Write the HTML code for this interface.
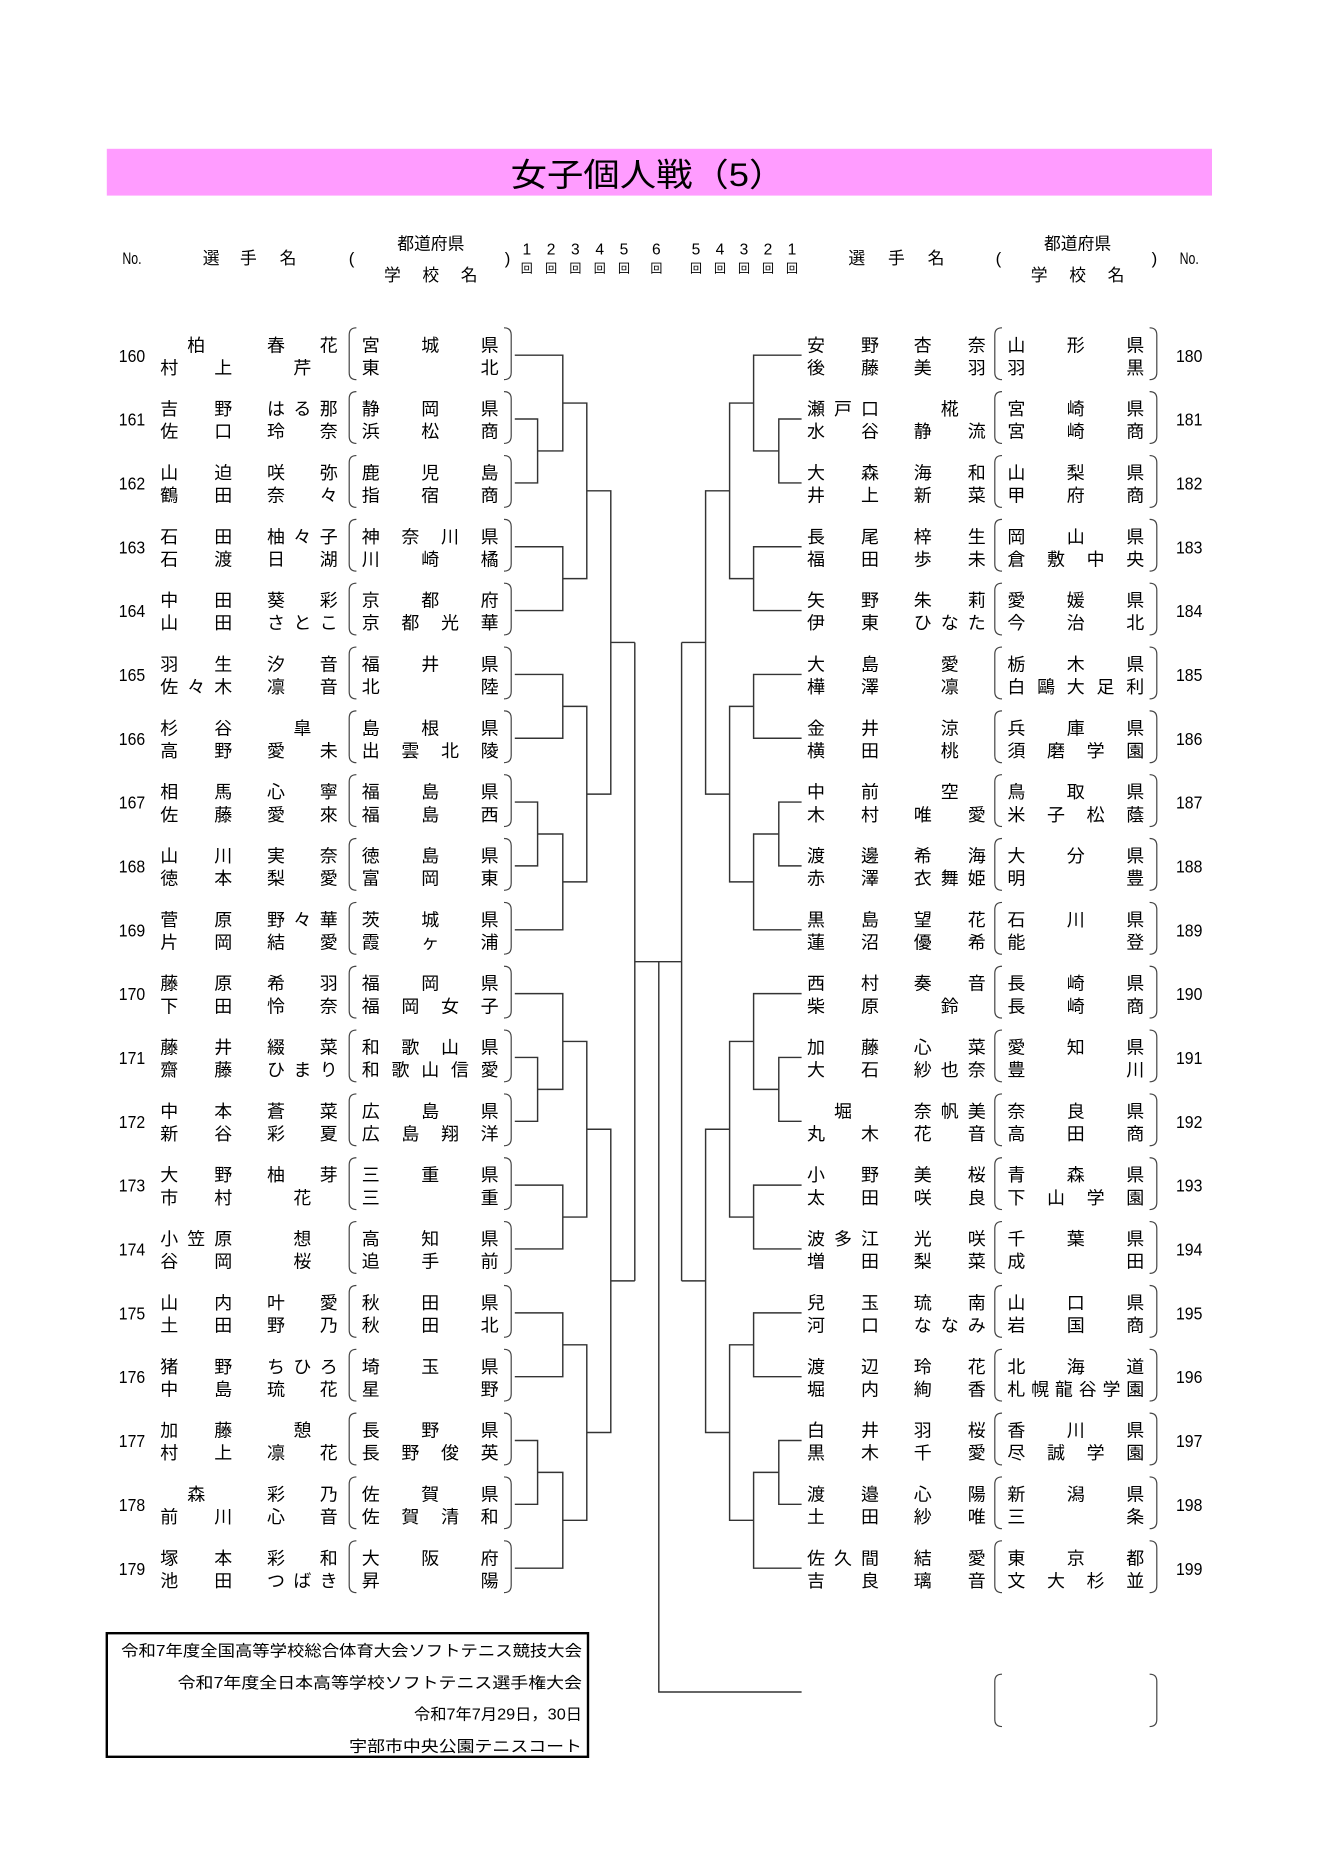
<!DOCTYPE html>
<html><head><meta charset="utf-8">
<style>
html,body{margin:0;padding:0;background:#fff;}
svg{display:block;}
text{font-family:"Liberation Sans","Noto Sans CJK JP",sans-serif;fill:#000;}
.t{font-size:15px;text-anchor:middle;}
.n{font-size:15px;text-anchor:middle;}
.h{font-size:14px;text-anchor:middle;}
.d{font-size:13px;text-anchor:middle;}
.k{font-size:10px;text-anchor:middle;}
.f{font-size:13px;text-anchor:end;}
.ln{fill:none;stroke:#333;stroke-width:1.2;}
.pr{fill:none;stroke:#444;stroke-width:1;}
</style></head><body>
<svg width="1320" height="1866" viewBox="0 0 1100 1555" xmlns="http://www.w3.org/2000/svg">
<defs>
<g id="blk">
<path class="ln" d="M429,350.6H448V404.3H429 M429,297H469V377.45H448 M429,457.9H469V511.5H429 M469,337.2H489V484.7H469 M429,565.2H469V618.8H429 M429,672.4H448V726H429 M448,699.2H469V779.7H429 M469,592H489V739.45H469 M489,410.95H509V665.7H489 M509,538.3H529"/>
</g>
<g id="tree">
<use href="#blk"/>
<use href="#blk" transform="translate(0,536.3)"/>
<path class="ln" d="M529,538.3V1074.6"/>
</g>
<g id="pl"><path class="pr" d="M297,-23Q291,-23 291,-17L291,14.5Q291,20.5 297,20.5 M420,-23Q426,-23 426,-17L426,14.5Q426,20.5 420,20.5"/></g>
<g id="prr"><path class="pr" d="M835,-23Q829,-23 829,-17L829,14.5Q829,20.5 835,20.5 M958,-23Q964,-23 964,-17L964,14.5Q964,20.5 958,20.5"/></g>
</defs>

<rect x="89" y="124" width="921" height="39" fill="#ff9cff"/>
<text x="540" y="155" style="font-size:27px;text-anchor:middle" textLength="229" lengthAdjust="spacingAndGlyphs">女子個人戦（5）</text>

<!-- header -->
<text class="h" x="110" y="220" textLength="16" lengthAdjust="spacingAndGlyphs">No.</text>
<text class="h" x="176 207 240" y="220">選手名</text>
<text class="h" x="293" y="220">(</text>
<text class="h" x="359" y="208">都道府県</text>
<text class="h" x="327 359 391" y="234">学校名</text>
<text class="h" x="423" y="220">)</text>
<text class="d" x="439 459.25 479.5 499.75 520 547 580 600 620 640 660" y="212">12345654321</text>
<text class="k" x="439 459.25 479.5 499.75 520 547 580 600 620 640 660" y="227">回回回回回回回回回回回</text>
<text class="h" x="714 747 780" y="220">選手名</text>
<text class="h" x="832" y="220">(</text>
<text class="h" x="898" y="208">都道府県</text>
<text class="h" x="866 898 930" y="234">学校名</text>
<text class="h" x="962" y="220">)</text>
<text class="h" x="991" y="220" textLength="16" lengthAdjust="spacingAndGlyphs">No.</text>

<g transform="translate(0,296) scale(1,0.992) translate(0,-297)">
<!-- bracket lines -->
<use href="#tree"/>
<use href="#tree" transform="translate(1097,0) scale(-1,1)"/>
<path class="ln" d="M529,806.5H568 M549,806.5V1420H668"/>

<!-- LEFT ROWS -->
<g transform="translate(0,297)"><use href="#pl"/><text class="n" x="110" y="5.5" textLength="22" lengthAdjust="spacingAndGlyphs">160</text><text class="t" x="163.5 230 274" y="-3.3">柏春花</text><text class="t" x="141 186 252" y="15.7">村上芹</text><text class="t" x="309 358.5 408" y="-3.3">宮城県</text><text class="t" x="309 408" y="15.7">東北</text></g>
<g transform="translate(0,350.6)"><use href="#pl"/><text class="n" x="110" y="5.5" textLength="22" lengthAdjust="spacingAndGlyphs">161</text><text class="t" x="141 186 230 252 274" y="-3.3">吉野はる那</text><text class="t" x="141 186 230 274" y="15.7">佐口玲奈</text><text class="t" x="309 358.5 408" y="-3.3">静岡県</text><text class="t" x="309 358.5 408" y="15.7">浜松商</text></g>
<g transform="translate(0,404.3)"><use href="#pl"/><text class="n" x="110" y="5.5" textLength="22" lengthAdjust="spacingAndGlyphs">162</text><text class="t" x="141 186 230 274" y="-3.3">山迫咲弥</text><text class="t" x="141 186 230 274" y="15.7">鶴田奈々</text><text class="t" x="309 358.5 408" y="-3.3">鹿児島</text><text class="t" x="309 358.5 408" y="15.7">指宿商</text></g>
<g transform="translate(0,457.9)"><use href="#pl"/><text class="n" x="110" y="5.5" textLength="22" lengthAdjust="spacingAndGlyphs">163</text><text class="t" x="141 186 230 252 274" y="-3.3">石田柚々子</text><text class="t" x="141 186 230 274" y="15.7">石渡日湖</text><text class="t" x="309 342 375 408" y="-3.3">神奈川県</text><text class="t" x="309 358.5 408" y="15.7">川崎橘</text></g>
<g transform="translate(0,511.5)"><use href="#pl"/><text class="n" x="110" y="5.5" textLength="22" lengthAdjust="spacingAndGlyphs">164</text><text class="t" x="141 186 230 274" y="-3.3">中田葵彩</text><text class="t" x="141 186 230 252 274" y="15.7">山田さとこ</text><text class="t" x="309 358.5 408" y="-3.3">京都府</text><text class="t" x="309 342 375 408" y="15.7">京都光華</text></g>
<g transform="translate(0,565.2)"><use href="#pl"/><text class="n" x="110" y="5.5" textLength="22" lengthAdjust="spacingAndGlyphs">165</text><text class="t" x="141 186 230 274" y="-3.3">羽生汐音</text><text class="t" x="141 163.5 186 230 274" y="15.7">佐々木凛音</text><text class="t" x="309 358.5 408" y="-3.3">福井県</text><text class="t" x="309 408" y="15.7">北陸</text></g>
<g transform="translate(0,618.8)"><use href="#pl"/><text class="n" x="110" y="5.5" textLength="22" lengthAdjust="spacingAndGlyphs">166</text><text class="t" x="141 186 252" y="-3.3">杉谷皐</text><text class="t" x="141 186 230 274" y="15.7">高野愛未</text><text class="t" x="309 358.5 408" y="-3.3">島根県</text><text class="t" x="309 342 375 408" y="15.7">出雲北陵</text></g>
<g transform="translate(0,672.4)"><use href="#pl"/><text class="n" x="110" y="5.5" textLength="22" lengthAdjust="spacingAndGlyphs">167</text><text class="t" x="141 186 230 274" y="-3.3">相馬心寧</text><text class="t" x="141 186 230 274" y="15.7">佐藤愛來</text><text class="t" x="309 358.5 408" y="-3.3">福島県</text><text class="t" x="309 358.5 408" y="15.7">福島西</text></g>
<g transform="translate(0,726)"><use href="#pl"/><text class="n" x="110" y="5.5" textLength="22" lengthAdjust="spacingAndGlyphs">168</text><text class="t" x="141 186 230 274" y="-3.3">山川実奈</text><text class="t" x="141 186 230 274" y="15.7">徳本梨愛</text><text class="t" x="309 358.5 408" y="-3.3">徳島県</text><text class="t" x="309 358.5 408" y="15.7">富岡東</text></g>
<g transform="translate(0,779.7)"><use href="#pl"/><text class="n" x="110" y="5.5" textLength="22" lengthAdjust="spacingAndGlyphs">169</text><text class="t" x="141 186 230 252 274" y="-3.3">菅原野々華</text><text class="t" x="141 186 230 274" y="15.7">片岡結愛</text><text class="t" x="309 358.5 408" y="-3.3">茨城県</text><text class="t" x="309 358.5 408" y="15.7">霞ヶ浦</text></g>
<g transform="translate(0,833.3)"><use href="#pl"/><text class="n" x="110" y="5.5" textLength="22" lengthAdjust="spacingAndGlyphs">170</text><text class="t" x="141 186 230 274" y="-3.3">藤原希羽</text><text class="t" x="141 186 230 274" y="15.7">下田怜奈</text><text class="t" x="309 358.5 408" y="-3.3">福岡県</text><text class="t" x="309 342 375 408" y="15.7">福岡女子</text></g>
<g transform="translate(0,886.9)"><use href="#pl"/><text class="n" x="110" y="5.5" textLength="22" lengthAdjust="spacingAndGlyphs">171</text><text class="t" x="141 186 230 274" y="-3.3">藤井綴菜</text><text class="t" x="141 186 230 252 274" y="15.7">齋藤ひまり</text><text class="t" x="309 342 375 408" y="-3.3">和歌山県</text><text class="t" x="309 333.75 358.5 383.25 408" y="15.7">和歌山信愛</text></g>
<g transform="translate(0,940.6)"><use href="#pl"/><text class="n" x="110" y="5.5" textLength="22" lengthAdjust="spacingAndGlyphs">172</text><text class="t" x="141 186 230 274" y="-3.3">中本蒼菜</text><text class="t" x="141 186 230 274" y="15.7">新谷彩夏</text><text class="t" x="309 358.5 408" y="-3.3">広島県</text><text class="t" x="309 342 375 408" y="15.7">広島翔洋</text></g>
<g transform="translate(0,994.2)"><use href="#pl"/><text class="n" x="110" y="5.5" textLength="22" lengthAdjust="spacingAndGlyphs">173</text><text class="t" x="141 186 230 274" y="-3.3">大野柚芽</text><text class="t" x="141 186 252" y="15.7">市村花</text><text class="t" x="309 358.5 408" y="-3.3">三重県</text><text class="t" x="309 408" y="15.7">三重</text></g>
<g transform="translate(0,1047.8)"><use href="#pl"/><text class="n" x="110" y="5.5" textLength="22" lengthAdjust="spacingAndGlyphs">174</text><text class="t" x="141 163.5 186 252" y="-3.3">小笠原想</text><text class="t" x="141 186 252" y="15.7">谷岡桜</text><text class="t" x="309 358.5 408" y="-3.3">高知県</text><text class="t" x="309 358.5 408" y="15.7">追手前</text></g>
<g transform="translate(0,1101.5)"><use href="#pl"/><text class="n" x="110" y="5.5" textLength="22" lengthAdjust="spacingAndGlyphs">175</text><text class="t" x="141 186 230 274" y="-3.3">山内叶愛</text><text class="t" x="141 186 230 274" y="15.7">土田野乃</text><text class="t" x="309 358.5 408" y="-3.3">秋田県</text><text class="t" x="309 358.5 408" y="15.7">秋田北</text></g>
<g transform="translate(0,1155.1)"><use href="#pl"/><text class="n" x="110" y="5.5" textLength="22" lengthAdjust="spacingAndGlyphs">176</text><text class="t" x="141 186 230 252 274" y="-3.3">猪野ちひろ</text><text class="t" x="141 186 230 274" y="15.7">中島琉花</text><text class="t" x="309 358.5 408" y="-3.3">埼玉県</text><text class="t" x="309 408" y="15.7">星野</text></g>
<g transform="translate(0,1208.7)"><use href="#pl"/><text class="n" x="110" y="5.5" textLength="22" lengthAdjust="spacingAndGlyphs">177</text><text class="t" x="141 186 252" y="-3.3">加藤憩</text><text class="t" x="141 186 230 274" y="15.7">村上凛花</text><text class="t" x="309 358.5 408" y="-3.3">長野県</text><text class="t" x="309 342 375 408" y="15.7">長野俊英</text></g>
<g transform="translate(0,1262.3)"><use href="#pl"/><text class="n" x="110" y="5.5" textLength="22" lengthAdjust="spacingAndGlyphs">178</text><text class="t" x="163.5 230 274" y="-3.3">森彩乃</text><text class="t" x="141 186 230 274" y="15.7">前川心音</text><text class="t" x="309 358.5 408" y="-3.3">佐賀県</text><text class="t" x="309 342 375 408" y="15.7">佐賀清和</text></g>
<g transform="translate(0,1316)"><use href="#pl"/><text class="n" x="110" y="5.5" textLength="22" lengthAdjust="spacingAndGlyphs">179</text><text class="t" x="141 186 230 274" y="-3.3">塚本彩和</text><text class="t" x="141 186 230 252 274" y="15.7">池田つばき</text><text class="t" x="309 358.5 408" y="-3.3">大阪府</text><text class="t" x="309 408" y="15.7">昇陽</text></g>

<!-- RIGHT ROWS -->
<g transform="translate(0,297)"><use href="#prr"/><text class="n" x="991" y="5.5" textLength="22" lengthAdjust="spacingAndGlyphs">180</text><text class="t" x="680 725 769 814" y="-3.3">安野杏奈</text><text class="t" x="680 725 769 814" y="15.7">後藤美羽</text><text class="t" x="847 896.5 946" y="-3.3">山形県</text><text class="t" x="847 946" y="15.7">羽黒</text></g>
<g transform="translate(0,350.6)"><use href="#prr"/><text class="n" x="991" y="5.5" textLength="22" lengthAdjust="spacingAndGlyphs">181</text><text class="t" x="680 702.5 725 791.5" y="-3.3">瀬戸口椛</text><text class="t" x="680 725 769 814" y="15.7">水谷静流</text><text class="t" x="847 896.5 946" y="-3.3">宮崎県</text><text class="t" x="847 896.5 946" y="15.7">宮崎商</text></g>
<g transform="translate(0,404.3)"><use href="#prr"/><text class="n" x="991" y="5.5" textLength="22" lengthAdjust="spacingAndGlyphs">182</text><text class="t" x="680 725 769 814" y="-3.3">大森海和</text><text class="t" x="680 725 769 814" y="15.7">井上新菜</text><text class="t" x="847 896.5 946" y="-3.3">山梨県</text><text class="t" x="847 896.5 946" y="15.7">甲府商</text></g>
<g transform="translate(0,457.9)"><use href="#prr"/><text class="n" x="991" y="5.5" textLength="22" lengthAdjust="spacingAndGlyphs">183</text><text class="t" x="680 725 769 814" y="-3.3">長尾梓生</text><text class="t" x="680 725 769 814" y="15.7">福田歩未</text><text class="t" x="847 896.5 946" y="-3.3">岡山県</text><text class="t" x="847 880 913 946" y="15.7">倉敷中央</text></g>
<g transform="translate(0,511.5)"><use href="#prr"/><text class="n" x="991" y="5.5" textLength="22" lengthAdjust="spacingAndGlyphs">184</text><text class="t" x="680 725 769 814" y="-3.3">矢野朱莉</text><text class="t" x="680 725 769 791.5 814" y="15.7">伊東ひなた</text><text class="t" x="847 896.5 946" y="-3.3">愛媛県</text><text class="t" x="847 896.5 946" y="15.7">今治北</text></g>
<g transform="translate(0,565.2)"><use href="#prr"/><text class="n" x="991" y="5.5" textLength="22" lengthAdjust="spacingAndGlyphs">185</text><text class="t" x="680 725 791.5" y="-3.3">大島愛</text><text class="t" x="680 725 791.5" y="15.7">樺澤凛</text><text class="t" x="847 896.5 946" y="-3.3">栃木県</text><text class="t" x="847 871.75 896.5 921.25 946" y="15.7">白鷗大足利</text></g>
<g transform="translate(0,618.8)"><use href="#prr"/><text class="n" x="991" y="5.5" textLength="22" lengthAdjust="spacingAndGlyphs">186</text><text class="t" x="680 725 791.5" y="-3.3">金井涼</text><text class="t" x="680 725 791.5" y="15.7">横田桃</text><text class="t" x="847 896.5 946" y="-3.3">兵庫県</text><text class="t" x="847 880 913 946" y="15.7">須磨学園</text></g>
<g transform="translate(0,672.4)"><use href="#prr"/><text class="n" x="991" y="5.5" textLength="22" lengthAdjust="spacingAndGlyphs">187</text><text class="t" x="680 725 791.5" y="-3.3">中前空</text><text class="t" x="680 725 769 814" y="15.7">木村唯愛</text><text class="t" x="847 896.5 946" y="-3.3">鳥取県</text><text class="t" x="847 880 913 946" y="15.7">米子松蔭</text></g>
<g transform="translate(0,726)"><use href="#prr"/><text class="n" x="991" y="5.5" textLength="22" lengthAdjust="spacingAndGlyphs">188</text><text class="t" x="680 725 769 814" y="-3.3">渡邊希海</text><text class="t" x="680 725 769 791.5 814" y="15.7">赤澤衣舞姫</text><text class="t" x="847 896.5 946" y="-3.3">大分県</text><text class="t" x="847 946" y="15.7">明豊</text></g>
<g transform="translate(0,779.7)"><use href="#prr"/><text class="n" x="991" y="5.5" textLength="22" lengthAdjust="spacingAndGlyphs">189</text><text class="t" x="680 725 769 814" y="-3.3">黒島望花</text><text class="t" x="680 725 769 814" y="15.7">蓮沼優希</text><text class="t" x="847 896.5 946" y="-3.3">石川県</text><text class="t" x="847 946" y="15.7">能登</text></g>
<g transform="translate(0,833.3)"><use href="#prr"/><text class="n" x="991" y="5.5" textLength="22" lengthAdjust="spacingAndGlyphs">190</text><text class="t" x="680 725 769 814" y="-3.3">西村奏音</text><text class="t" x="680 725 791.5" y="15.7">柴原鈴</text><text class="t" x="847 896.5 946" y="-3.3">長崎県</text><text class="t" x="847 896.5 946" y="15.7">長崎商</text></g>
<g transform="translate(0,886.9)"><use href="#prr"/><text class="n" x="991" y="5.5" textLength="22" lengthAdjust="spacingAndGlyphs">191</text><text class="t" x="680 725 769 814" y="-3.3">加藤心菜</text><text class="t" x="680 725 769 791.5 814" y="15.7">大石紗也奈</text><text class="t" x="847 896.5 946" y="-3.3">愛知県</text><text class="t" x="847 946" y="15.7">豊川</text></g>
<g transform="translate(0,940.6)"><use href="#prr"/><text class="n" x="991" y="5.5" textLength="22" lengthAdjust="spacingAndGlyphs">192</text><text class="t" x="702.5 769 791.5 814" y="-3.3">堀奈帆美</text><text class="t" x="680 725 769 814" y="15.7">丸木花音</text><text class="t" x="847 896.5 946" y="-3.3">奈良県</text><text class="t" x="847 896.5 946" y="15.7">高田商</text></g>
<g transform="translate(0,994.2)"><use href="#prr"/><text class="n" x="991" y="5.5" textLength="22" lengthAdjust="spacingAndGlyphs">193</text><text class="t" x="680 725 769 814" y="-3.3">小野美桜</text><text class="t" x="680 725 769 814" y="15.7">太田咲良</text><text class="t" x="847 896.5 946" y="-3.3">青森県</text><text class="t" x="847 880 913 946" y="15.7">下山学園</text></g>
<g transform="translate(0,1047.8)"><use href="#prr"/><text class="n" x="991" y="5.5" textLength="22" lengthAdjust="spacingAndGlyphs">194</text><text class="t" x="680 702.5 725 769 814" y="-3.3">波多江光咲</text><text class="t" x="680 725 769 814" y="15.7">増田梨菜</text><text class="t" x="847 896.5 946" y="-3.3">千葉県</text><text class="t" x="847 946" y="15.7">成田</text></g>
<g transform="translate(0,1101.5)"><use href="#prr"/><text class="n" x="991" y="5.5" textLength="22" lengthAdjust="spacingAndGlyphs">195</text><text class="t" x="680 725 769 814" y="-3.3">兒玉琉南</text><text class="t" x="680 725 769 791.5 814" y="15.7">河口ななみ</text><text class="t" x="847 896.5 946" y="-3.3">山口県</text><text class="t" x="847 896.5 946" y="15.7">岩国商</text></g>
<g transform="translate(0,1155.1)"><use href="#prr"/><text class="n" x="991" y="5.5" textLength="22" lengthAdjust="spacingAndGlyphs">196</text><text class="t" x="680 725 769 814" y="-3.3">渡辺玲花</text><text class="t" x="680 725 769 814" y="15.7">堀内絢香</text><text class="t" x="847 896.5 946" y="-3.3">北海道</text><text class="t" x="847 866.8 886.6 906.4 926.2 946" y="15.7">札幌龍谷学園</text></g>
<g transform="translate(0,1208.7)"><use href="#prr"/><text class="n" x="991" y="5.5" textLength="22" lengthAdjust="spacingAndGlyphs">197</text><text class="t" x="680 725 769 814" y="-3.3">白井羽桜</text><text class="t" x="680 725 769 814" y="15.7">黒木千愛</text><text class="t" x="847 896.5 946" y="-3.3">香川県</text><text class="t" x="847 880 913 946" y="15.7">尽誠学園</text></g>
<g transform="translate(0,1262.3)"><use href="#prr"/><text class="n" x="991" y="5.5" textLength="22" lengthAdjust="spacingAndGlyphs">198</text><text class="t" x="680 725 769 814" y="-3.3">渡邉心陽</text><text class="t" x="680 725 769 814" y="15.7">土田紗唯</text><text class="t" x="847 896.5 946" y="-3.3">新潟県</text><text class="t" x="847 946" y="15.7">三条</text></g>
<g transform="translate(0,1316)"><use href="#prr"/><text class="n" x="991" y="5.5" textLength="22" lengthAdjust="spacingAndGlyphs">199</text><text class="t" x="680 702.5 725 769 814" y="-3.3">佐久間結愛</text><text class="t" x="680 725 769 814" y="15.7">吉良璃音</text><text class="t" x="847 896.5 946" y="-3.3">東京都</text><text class="t" x="847 880 913 946" y="15.7">文大杉並</text></g>

<!-- empty bracket bottom right -->
<g transform="translate(0,1427)"><path class="pr" d="M835,-22Q829,-22 829,-16L829,16Q829,22 835,22 M958,-22Q964,-22 964,-16L964,16Q964,22 958,22"/></g>
</g>

<!-- footer box -->
<rect x="89" y="1361" width="401" height="103" fill="none" stroke="#000" stroke-width="2"/>
<text class="f" x="485" y="1380" textLength="384" lengthAdjust="spacingAndGlyphs">令和7年度全国高等学校総合体育大会ソフトテニス競技大会</text>
<text class="f" x="485" y="1406.5" textLength="337" lengthAdjust="spacingAndGlyphs">令和7年度全日本高等学校ソフトテニス選手権大会</text>
<text class="f" x="485" y="1433" textLength="140" lengthAdjust="spacingAndGlyphs">令和7年7月29日，30日</text>
<text class="f" x="485" y="1459.5" textLength="194" lengthAdjust="spacingAndGlyphs">宇部市中央公園テニスコート</text>
</svg>
</body></html>
